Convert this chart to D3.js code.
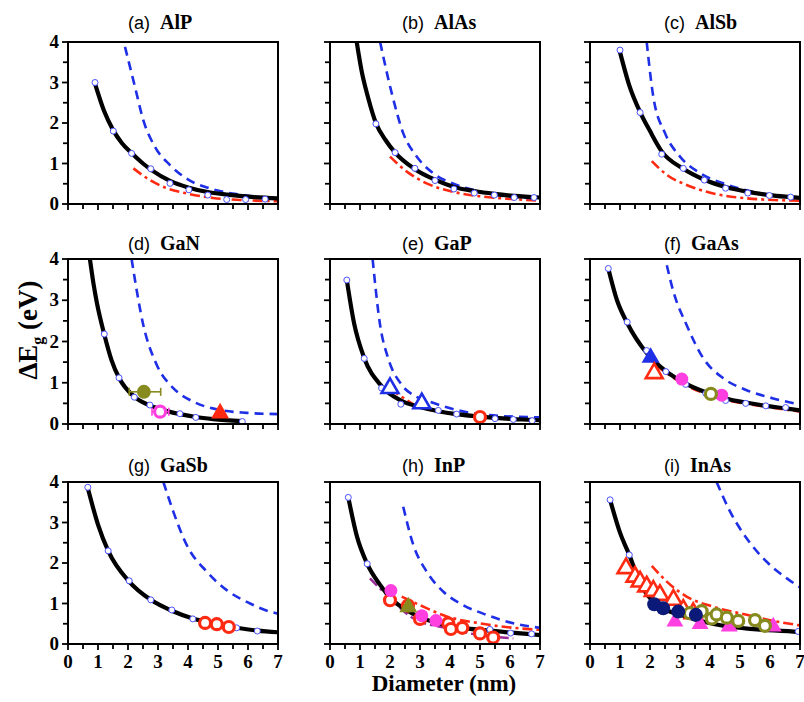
<!DOCTYPE html>
<html><head><meta charset="utf-8">
<script src="https://cdn.jsdelivr.net/npm/d3@7"></script>
<style>body{margin:0;background:#fff}svg{display:block}</style>
</head><body>
<svg id="c" width="804" height="702"></svg>
<script>
// ---------- data ----------
const panelLetters = ["a","b","c","d","e","f","g","h","i"];
const panelNames = ["AlP","AlAs","AlSb","GaN","GaP","GaAs","GaSb","InP","InAs"];
const xTickLabels = ["0","1","2","3","4","5","6","7"];
const yTickLabels = ["0","1","2","3","4"];

// black solid model curves [diameter, dEg]
const modelAlP  = [[0.9,2.97],[1.2,2.3],[1.5,1.83],[1.8,1.5],[2.1,1.27],[2.5,1.0],[2.8,0.83],[3.4,0.57],[4.0,0.41],[4.7,0.29],[5.3,0.23],[6.0,0.18],[7.0,0.14]];
const modelAlAs = [[0.89,4.0],[1.05,3.3],[1.28,2.6],[1.53,2.0],[1.85,1.58],[2.17,1.27],[2.83,0.86],[3.5,0.6],[4.13,0.42],[4.81,0.32],[5.48,0.25],[6.14,0.2],[7.0,0.16]];
const modelAlSb = [[1.0,3.75],[1.3,2.95],[1.67,2.27],[2.0,1.8],[2.39,1.3],[3.11,0.87],[3.81,0.6],[4.52,0.42],[5.26,0.3],[5.98,0.22],[6.69,0.17],[7.0,0.15]];
const modelGaN  = [[0.73,4.0],[0.85,3.4],[0.96,2.95],[1.21,2.17],[1.45,1.55],[1.7,1.12],[2.21,0.66],[2.73,0.45],[3.2,0.33],[3.73,0.24],[4.26,0.17],[4.84,0.12],[5.81,0.07]];
const modelGaP  = [[0.56,3.49],[0.8,2.45],[1.14,1.6],[1.72,0.92],[2.36,0.57],[3.0,0.41],[3.61,0.31],[4.22,0.24],[5.0,0.18],[5.5,0.15],[6.11,0.12],[6.74,0.1],[7.0,0.09]];
const modelGaAs = [[0.61,3.77],[0.9,3.0],[1.24,2.45],[1.89,1.72],[2.53,1.28],[3.19,0.98],[3.86,0.77],[4.52,0.62],[5.19,0.52],[5.86,0.44],[6.52,0.38],[7.0,0.33]];
const modelGaSb = [[0.66,3.85],[1.0,2.95],[1.34,2.3],[2.04,1.54],[2.76,1.09],[3.46,0.82],[4.16,0.63],[4.9,0.5],[5.62,0.4],[6.31,0.33],[7.0,0.29]];
const modelInP  = [[0.61,3.62],[0.9,2.65],[1.24,1.98],[1.67,1.46],[2.0,1.15],[2.78,0.74],[3.89,0.46],[4.6,0.38],[5.33,0.33],[6.02,0.28],[6.72,0.24],[7.0,0.22]];
const modelInAs = [[0.67,3.56],[1.0,2.75],[1.31,2.2],[1.67,1.5],[2.22,0.98],[3.11,0.7],[3.8,0.55],[4.44,0.45],[5.56,0.36],[6.94,0.29],[7.0,0.28]];

// small open reference points on the model curve
const dotsAlP  = [[0.9,3.0],[1.51,1.8],[2.12,1.25],[2.76,0.87],[3.4,0.51],[4.03,0.35],[4.66,0.22],[5.29,0.11],[5.92,0.11],[6.57,0.12]];
const dotsAlAs = [[1.53,1.98],[2.17,1.27],[2.83,0.88],[3.5,0.58],[4.13,0.37],[4.81,0.27],[5.48,0.22],[6.14,0.16],[6.8,0.16]];
const dotsAlSb = [[1.0,3.8],[1.67,2.26],[2.39,1.23],[3.11,0.88],[3.81,0.59],[4.52,0.39],[5.26,0.27],[5.98,0.21],[6.69,0.17]];
const dotsGaN  = [[1.21,2.18],[1.7,1.12],[2.21,0.65],[2.73,0.46],[3.73,0.25],[4.26,0.16],[5.81,0.06]];
const dotsGaP  = [[0.56,3.49],[1.14,1.59],[1.72,0.87],[2.36,0.48],[3.61,0.33],[4.22,0.24],[5.5,0.13],[6.11,0.11],[6.74,0.08]];
const dotsGaAs = [[0.61,3.77],[1.24,2.47],[1.89,1.78],[2.53,1.27],[3.19,0.96],[3.86,0.74],[4.52,0.57],[5.19,0.5],[5.86,0.44],[6.52,0.4]];
const dotsGaSb = [[0.66,3.87],[1.34,2.3],[2.04,1.56],[2.76,1.09],[3.46,0.84],[4.16,0.62],[5.62,0.4],[6.31,0.32]];
const dotsInP  = [[0.61,3.62],[1.24,1.98],[5.33,0.36],[6.02,0.27],[6.72,0.25]];
const dotsInAs = [[0.67,3.56],[1.31,2.2],[6.94,0.31]];

// blue dashed curves
const dashAlP  = [[1.9,3.88],[2.23,2.9],[2.51,2.07],[2.9,1.41],[3.4,0.96],[4.01,0.6],[4.84,0.36],[5.73,0.23],[6.62,0.15],[7.0,0.13]];
const dashAlAs = [[1.67,4.0],[2.06,2.73],[2.44,1.75],[2.89,1.17],[3.44,0.76],[4.22,0.47],[5.0,0.31],[5.89,0.19],[7.0,0.14]];
const dashAlSb = [[1.89,4.0],[2.11,2.65],[2.5,1.75],[3.0,1.17],[3.67,0.76],[4.44,0.51],[5.44,0.3],[7.0,0.16]];
const dashGaN  = [[2.12,4.0],[2.51,2.4],[2.96,1.43],[3.51,0.87],[4.18,0.54],[5.07,0.34],[5.96,0.27],[7.0,0.24]];
const dashGaP  = [[1.42,4.0],[1.67,2.4],[1.94,1.59],[2.39,0.95],[2.89,0.66],[3.33,0.54],[4.22,0.34],[5.22,0.22],[7.0,0.16]];
const dashGaAs = [[2.56,3.85],[2.78,3.21],[3.22,2.4],[3.78,1.59],[4.44,1.11],[5.22,0.82],[6.11,0.62],[7.0,0.47]];
const dashGaSb = [[3.18,4.0],[3.51,3.27],[3.96,2.44],[4.62,1.79],[5.29,1.33],[6.07,1.0],[6.73,0.8],[7.0,0.75]];
const dashInP  = [[2.44,3.39],[2.78,2.44],[3.22,1.79],[3.78,1.29],[4.44,0.96],[5.22,0.72],[6.11,0.51],[7.0,0.4]];
const dashInAs = [[4.22,4.0],[4.67,3.27],[5.22,2.61],[5.89,2.03],[6.56,1.62],[7.0,1.4]];

// red dash-dot curves
const redAlP  = [[2.18,0.88],[2.73,0.59],[3.29,0.39],[3.96,0.26],[4.84,0.15],[5.73,0.1],[7.0,0.07]];
const redAlAs = [[2.0,1.17],[2.56,0.8],[3.22,0.51],[4.11,0.3],[5.0,0.19],[6.11,0.12],[7.0,0.08]];
const redAlSb = [[2.06,1.06],[2.56,0.72],[3.22,0.47],[4.11,0.26],[5.22,0.14],[7.0,0.08]];
const redGaP  = [[2.0,0.85],[2.39,0.66],[2.84,0.45],[3.61,0.3],[4.5,0.2],[5.5,0.14],[7.0,0.08]];
const redGaAs = [[2.2,1.42],[3.19,0.94],[3.86,0.73],[4.52,0.58],[5.19,0.49],[5.86,0.42],[7.0,0.3]];
const redInP  = [[2.39,1.17],[3.0,0.96],[3.89,0.68],[5.0,0.51],[6.11,0.4],[7.0,0.35]];
const redInAs = [[2.06,1.93],[2.56,1.54],[3.22,1.17],[4.11,0.92],[5.22,0.72],[6.11,0.57],[7.0,0.46]];
// purple dash-dot (InP)
const purpleInP = [[1.33,1.62],[1.89,1.21],[2.78,0.63],[3.89,0.39],[5.0,0.22],[6.11,0.14]];

// experimental markers: [d, dEg]
const gaNOlive   = [[2.53,0.78]];  const gaNOliveErr = [[2.04,3.09]];
const gaNMagenta = [[3.07,0.3]];   const gaNMagentaErr = [[2.8,3.36]];
const gaNRedTri  = [[5.07,0.26]];
const gaPBlueTri = [[2.0,0.87],[3.06,0.5]];
const gaPRedCirc = [[5.0,0.17]];
const gaAsBlueTri = [[2.02,1.61]];
const gaAsRedTri  = [[2.14,1.23]];
const gaAsMagenta = [[3.06,1.09],[4.39,0.7]];
const gaAsOlive   = [[4.03,0.73]];
const gaSbRedCirc = [[4.57,0.52],[4.96,0.49],[5.36,0.42]];
const inPRedCirc  = [[2.0,1.08],[2.6,0.95],[3.0,0.62],[3.94,0.51],[4.03,0.37],[4.41,0.4],[5.0,0.26],[5.44,0.16]];
const inPMagenta  = [[2.03,1.32],[3.06,0.7],[3.53,0.58]];
const inPOliveTri = [[2.61,0.91]];
const inAsRedTri  = [[1.2,1.87],[1.5,1.66],[1.67,1.54],[1.89,1.42],[2.11,1.31],[2.33,1.21],[2.78,1.09],[3.11,0.84],[3.44,0.76]];
const inAsNavy    = [[2.14,0.98],[2.44,0.88],[2.94,0.8],[3.53,0.72]];
const inAsMagTri  = [[2.83,0.55],[3.67,0.49],[4.64,0.43],[6.11,0.43]];
const inAsOlive   = [[3.33,0.76],[3.72,0.81],[4.06,0.63],[4.22,0.73],[4.56,0.65],[4.94,0.57],[5.5,0.59],[5.83,0.45]];

// ---------- styles ----------
const C = {blue:"#1f2fe6", red:"#ff2a12", magenta:"#ff3fe0", olive:"#878a1e", navy:"#0b1a78", dot:"#4a52ff", purple:"#9b2a9b"};

const models = [modelAlP,modelAlAs,modelAlSb,modelGaN,modelGaP,modelGaAs,modelGaSb,modelInP,modelInAs];
const dots = [dotsAlP,dotsAlAs,dotsAlSb,dotsGaN,dotsGaP,dotsGaAs,dotsGaSb,dotsInP,dotsInAs];
const dashes = [dashAlP,dashAlAs,dashAlSb,dashGaN,dashGaP,dashGaAs,dashGaSb,dashInP,dashInAs];
const reds = [redAlP,redAlAs,redAlSb,null,redGaP,redGaAs,null,redInP,redInAs];

const markers = [
  [],[],[],
  [{data:gaNOlive,shape:"circle",color:C.olive,open:false,r:7,err:gaNOliveErr},
   {data:gaNMagenta,shape:"circle",color:C.magenta,open:true,r:5.5,err:gaNMagentaErr},
   {data:gaNRedTri,shape:"tri",color:C.red,open:false,r:8}],
  [{data:gaPBlueTri,shape:"tri",color:C.blue,open:true,r:7.5},
   {data:gaPRedCirc,shape:"circle",color:C.red,open:true,r:5.5}],
  [{data:gaAsBlueTri,shape:"tri",color:C.blue,open:false,r:8},
   {data:gaAsRedTri,shape:"tri",color:C.red,open:true,r:7.5},
   {data:gaAsMagenta,shape:"circle",color:C.magenta,open:false,r:6.5},
   {data:gaAsOlive,shape:"circle",color:C.olive,open:true,r:5.5}],
  [{data:gaSbRedCirc,shape:"circle",color:C.red,open:true,r:5.5}],
  [{data:inPRedCirc,shape:"circle",color:C.red,open:true,r:5.5},
   {data:inPMagenta,shape:"circle",color:C.magenta,open:false,r:6.5},
   {data:inPOliveTri,shape:"tri",color:C.olive,open:false,r:8}],
  [{data:inAsRedTri,shape:"tri",color:C.red,open:true,r:7.5},
   {data:inAsMagTri,shape:"tri",color:C.magenta,open:false,r:7.5},
   {data:inAsOlive,shape:"circle",color:C.olive,open:true,r:5.5},
   {data:inAsNavy,shape:"circle",color:C.navy,open:false,r:7}]
];

// ---------- layout ----------
const colX = [68, 330, 590];
const rowY = [[42,204],[259,424],[482,644]];
const titleX = [128, 402, 664];
const titleY = [29, 250, 472];
const W = 210;

const svg = d3.select("#c");
const serif = "'Liberation Serif','Times New Roman',serif";
const sans = "'Liberation Sans',Arial,sans-serif";

for (let i = 0; i < 9; i++) {
  const col = i % 3, row = Math.floor(i / 3);
  const x0 = colX[col], y0 = rowY[row][0], y1 = rowY[row][1];
  const x = d3.scaleLinear().domain([0,7]).range([x0, x0 + W]);
  const y = d3.scaleLinear().domain([0,4]).range([y1, y0]);
  const g = svg.append("g");
  const clipId = "clip" + i;
  svg.append("clipPath").attr("id", clipId).append("rect")
    .attr("x", x0).attr("y", y0).attr("width", W).attr("height", y1 - y0);
  const plot = g.append("g").attr("clip-path", `url(#${clipId})`);
  const line = d3.line().x(d => x(d[0])).y(d => y(d[1])).curve(d3.curveMonotoneX);

  if (reds[i]) plot.append("path").datum(reds[i]).attr("d", line)
    .attr("fill","none").attr("stroke",C.red).attr("stroke-width",2.6)
    .attr("stroke-dasharray","10,4,3,4");
  if (i === 7) plot.append("path").datum(purpleInP).attr("d", line)
    .attr("fill","none").attr("stroke",C.purple).attr("stroke-width",2.4)
    .attr("stroke-dasharray","10,4,3,4");
  plot.append("path").datum(dashes[i]).attr("d", line)
    .attr("fill","none").attr("stroke",C.blue).attr("stroke-width",2.6)
    .attr("stroke-dasharray","9,6");
  plot.append("path").datum(models[i]).attr("d", line)
    .attr("fill","none").attr("stroke","#000").attr("stroke-width",4.2);
  plot.selectAll("circle.dot").data(dots[i]).join("circle").attr("class","dot")
    .attr("cx", d => x(d[0])).attr("cy", d => y(d[1])).attr("r", 3)
    .attr("fill","#fff").attr("stroke",C.dot).attr("stroke-width",1);

  markers[i].forEach(m => {
    if (m.err) {
      m.err.forEach((e, k) => {
        const yy = y(m.data[k][1]);
        g.append("line").attr("x1", x(e[0])).attr("x2", x(e[1])).attr("y1", yy).attr("y2", yy)
          .attr("stroke", m.color).attr("stroke-width", 1.6);
        [e[0], e[1]].forEach(v => g.append("line").attr("x1", x(v)).attr("x2", x(v))
          .attr("y1", yy - 4).attr("y2", yy + 4).attr("stroke", m.color).attr("stroke-width", 1.6));
      });
    }
    if (m.shape === "circle") {
      g.selectAll(null).data(m.data).join("circle")
        .attr("cx", d => x(d[0])).attr("cy", d => y(d[1])).attr("r", m.r)
        .attr("fill", m.open ? "#fff" : m.color).attr("stroke", m.color)
        .attr("stroke-width", m.open ? 3.2 : 0);
    } else {
      const sym = d3.symbol().type(d3.symbolTriangle).size(m.r * m.r * 2.2);
      g.selectAll(null).data(m.data).join("path")
        .attr("transform", d => `translate(${x(d[0])},${y(d[1])})`)
        .attr("d", sym)
        .attr("fill", m.open ? "#fff" : m.color).attr("stroke", m.color)
        .attr("stroke-width", m.open ? 2.6 : 0).attr("stroke-linejoin","miter");
    }
  });

  g.append("rect").attr("x", x0).attr("y", y0).attr("width", W).attr("height", y1 - y0)
    .attr("fill","none").attr("stroke","#000").attr("stroke-width",2);

  const xt = d3.range(0, 7.01, 0.5);
  g.selectAll(null).data(xt).join("line")
    .attr("x1", d => x(d)).attr("x2", d => x(d))
    .attr("y1", y1).attr("y2", d => y1 + (d % 1 === 0 ? 6 : 5))
    .attr("stroke","#000").attr("stroke-width",1.8);
  const yt = d3.range(0, 4.01, 0.5);
  g.selectAll(null).data(yt).join("line")
    .attr("y1", d => y(d)).attr("y2", d => y(d))
    .attr("x1", x0).attr("x2", d => x0 - (d % 1 === 0 ? 6 : 5))
    .attr("stroke","#000").attr("stroke-width",1.8);

  if (row === 2) {
    g.selectAll(null).data(xTickLabels).join("text")
      .attr("x", d => x(+d)).attr("y", y1 + 24).attr("text-anchor","middle")
      .attr("font-family", serif).attr("font-weight","bold").attr("font-size",19).text(d => d);
  }
  if (col === 0) {
    g.selectAll(null).data(yTickLabels).join("text")
      .attr("x", x0 - 9).attr("y", d => y(+d) + 6).attr("text-anchor","end")
      .attr("font-family", serif).attr("font-weight","bold").attr("font-size",19).text(d => d);
  }
  const t = g.append("text").attr("x", titleX[col]).attr("y", titleY[row]).attr("text-anchor","start");
  t.append("tspan").attr("font-family", sans).attr("font-size",18).text(`(${panelLetters[i]})\u00a0\u00a0`);
  t.append("tspan").attr("font-family", serif).attr("font-weight","bold").attr("font-size",20).text(panelNames[i]);
}

svg.append("text").attr("x", 444).attr("y", 691).attr("text-anchor","middle")
  .attr("font-family", serif).attr("font-weight","bold").attr("font-size",23).text("Diameter (nm)");
const yl = svg.append("text").attr("transform","translate(37,330) rotate(-90)").attr("text-anchor","middle")
  .attr("font-family", serif).attr("font-weight","bold").attr("font-size",27);
yl.append("tspan").text("\u0394E");
yl.append("tspan").attr("font-size",16).attr("dy",6).text("g");
yl.append("tspan").attr("dy",-6).text(" (eV)");
</script>
</body></html>
